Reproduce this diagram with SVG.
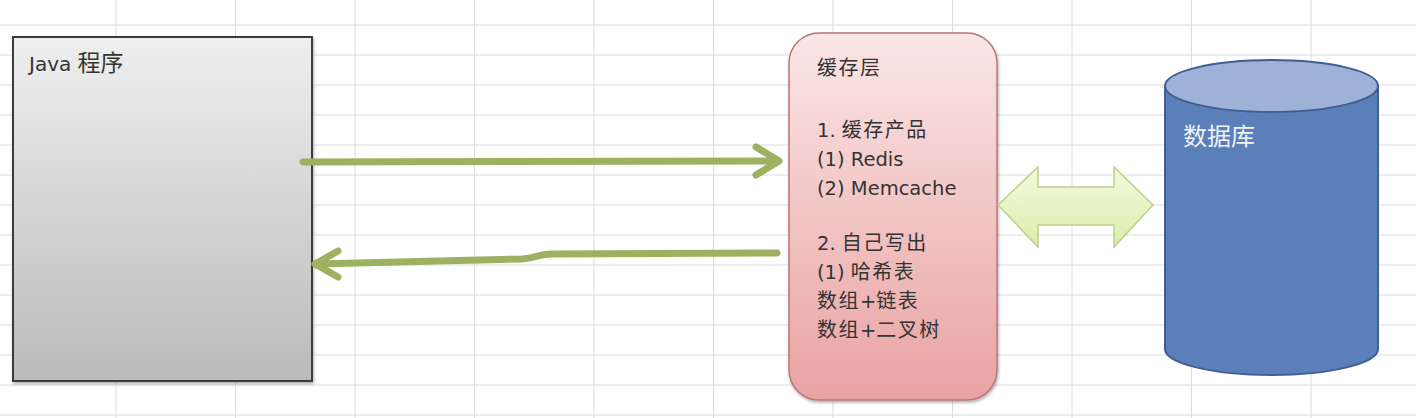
<svg xmlns="http://www.w3.org/2000/svg" width="1416" height="418" viewBox="0 0 1416 418">
<defs>
<linearGradient id="gJava" x1="0" y1="0" x2="0" y2="1"><stop offset="0" stop-color="#efefef"/><stop offset="1" stop-color="#bababa"/></linearGradient>
<linearGradient id="gCache" x1="0" y1="0" x2="0" y2="1"><stop offset="0" stop-color="#fbe6e6"/><stop offset="1" stop-color="#e9a2a2"/></linearGradient>
<linearGradient id="gDbl" x1="0" y1="0" x2="0" y2="1"><stop offset="0" stop-color="#f3f9df"/><stop offset="1" stop-color="#dcedab"/></linearGradient>
<filter id="sh" x="-10%" y="-10%" width="120%" height="120%"><feDropShadow dx="1" dy="2" stdDeviation="1.5" flood-color="#000" flood-opacity="0.3"/></filter>
</defs>
<style>
.grid line{stroke:#dcdcdc;stroke-width:1}
.t{font-family:"DejaVu Sans","Noto Sans CJK SC",sans-serif;font-size:19.5px;fill:#333}
.c{font-family:"Noto Sans CJK SC",sans-serif;font-size:20px;letter-spacing:1.5px}
.flow{fill:none;stroke:#9db160;stroke-width:7;stroke-linecap:round;stroke-linejoin:round}
</style>
<rect width="1416" height="418" fill="#ffffff"/>
<g class="grid">
<line x1="0" y1="25" x2="1416" y2="25"/><line x1="0" y1="55" x2="1416" y2="55"/><line x1="0" y1="85" x2="1416" y2="85"/><line x1="0" y1="115" x2="1416" y2="115"/><line x1="0" y1="145" x2="1416" y2="145"/><line x1="0" y1="175" x2="1416" y2="175"/><line x1="0" y1="205" x2="1416" y2="205"/><line x1="0" y1="235" x2="1416" y2="235"/><line x1="0" y1="265" x2="1416" y2="265"/><line x1="0" y1="295" x2="1416" y2="295"/><line x1="0" y1="325" x2="1416" y2="325"/><line x1="0" y1="355" x2="1416" y2="355"/><line x1="0" y1="385" x2="1416" y2="385"/><line x1="0" y1="415" x2="1416" y2="415"/>
<line x1="116" y1="0" x2="116" y2="418"/><line x1="235.5" y1="0" x2="235.5" y2="418"/><line x1="355" y1="0" x2="355" y2="418"/><line x1="474.5" y1="0" x2="474.5" y2="418"/><line x1="594" y1="0" x2="594" y2="418"/><line x1="713.5" y1="0" x2="713.5" y2="418"/><line x1="833" y1="0" x2="833" y2="418"/><line x1="952.5" y1="0" x2="952.5" y2="418"/><line x1="1072" y1="0" x2="1072" y2="418"/><line x1="1191.5" y1="0" x2="1191.5" y2="418"/><line x1="1311" y1="0" x2="1311" y2="418"/>
</g>
<g id="java">
<rect x="13" y="37" width="299" height="344" fill="url(#gJava)" stroke="#3a3a3a" stroke-width="2" filter="url(#sh)"/>
<text class="t" x="29" y="71" style="font-size:20px">Java <tspan style="font-family:'Noto Sans CJK SC',sans-serif;font-size:23px">程序</tspan></text>
</g>
<g id="cache">
<rect x="789" y="33" width="208" height="367" rx="30" ry="30" fill="url(#gCache)" stroke="#b97575" stroke-width="1.5" filter="url(#sh)"/>
<text class="t" x="817" y="75"><tspan class="c">缓存层</tspan></text>
<text class="t" x="817" y="137">1. <tspan class="c">缓存产品</tspan></text>
<text class="t" x="817" y="166">(1) Redis</text>
<text class="t" x="817" y="195">(2) Memcache</text>
<text class="t" x="817" y="250">2. <tspan class="c">自己写出</tspan></text>
<text class="t" x="817" y="279">(1) <tspan class="c">哈希表</tspan></text>
<text class="t" x="817" y="308"><tspan class="c">数组</tspan>+<tspan class="c">链表</tspan></text>
<text class="t" x="817" y="337"><tspan class="c">数组</tspan>+<tspan class="c">二叉树</tspan></text>
</g>
<g id="db">
<path d="M1165,86 L1165,349 A106.5,26 0 0 0 1378,349 L1378,86 Z" fill="#5b7fb8" stroke="#3f5f93" stroke-width="2"/>
<ellipse cx="1271.5" cy="86" rx="106.5" ry="26" fill="#9db2d6" stroke="#3f5f93" stroke-width="2"/>
<text x="1183" y="145" style="font-family:'Noto Sans CJK SC',sans-serif;font-size:24px;fill:#eef2f9">数据库</text>
</g>
<g id="connectors">
<path class="flow" d="M303,162 L777,161"/>
<path class="flow" d="M756,147 L779,161 L756,175"/>
<path class="flow" d="M777,253 L552,254 C540,254 535,258 522,259 L316,264"/>
<path class="flow" d="M338,251 L315,264 L338,277"/>
<polygon points="998,205 1038,167 1038,187 1114,187 1114,167 1153,205 1114,247 1114,225 1038,225 1038,247" fill="url(#gDbl)" stroke="#bcd08a" stroke-width="1.5"/>
</g>
</svg>
